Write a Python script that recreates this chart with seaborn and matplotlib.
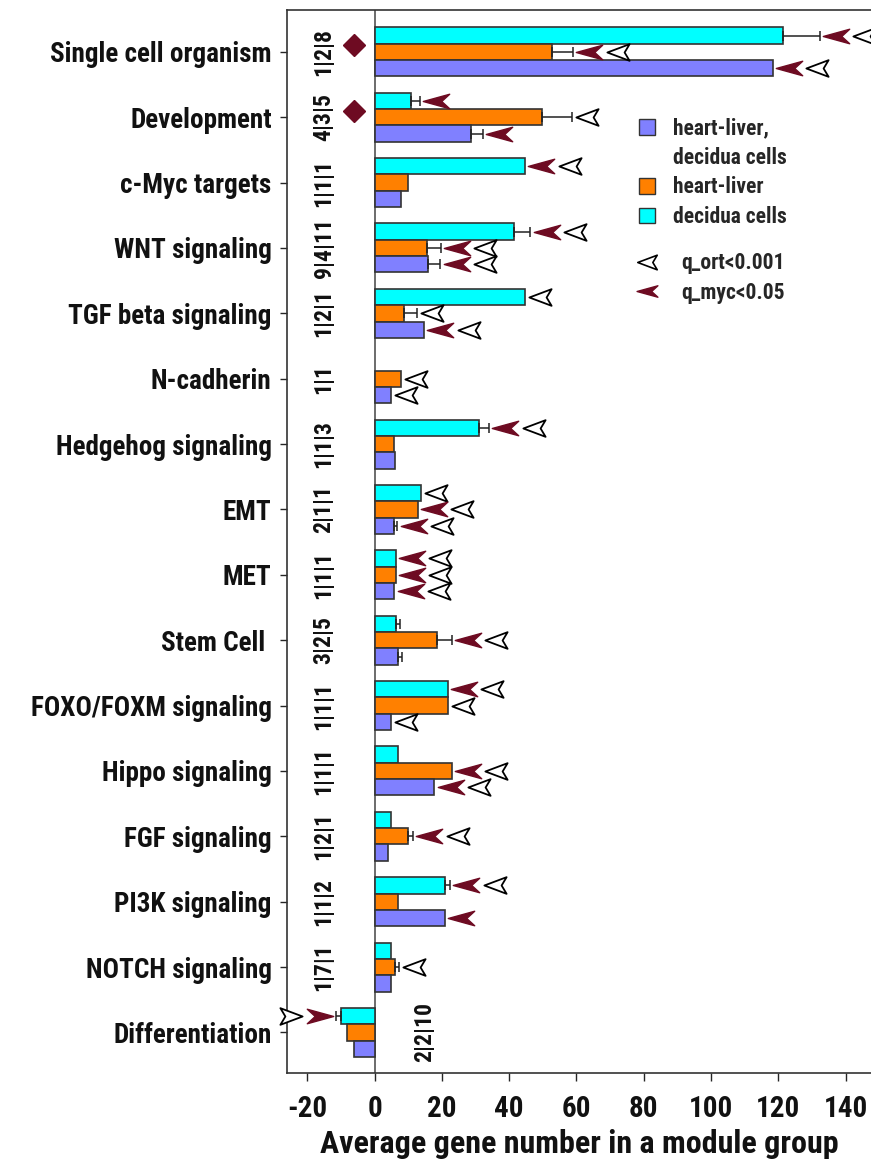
import matplotlib
matplotlib.use("Agg")
import matplotlib.pyplot as plt
import numpy as np
import pandas as pd
import seaborn as sb
from matplotlib.path import Path
from matplotlib.patches import Patch
from matplotlib.lines import Line2D
from matplotlib import font_manager

# categories top -> bottom
categories = ["Single cell organism", "Development", "c-Myc targets", "WNT signaling",
              "TGF beta signaling", "N-cadherin", "Hedgehog signaling", "EMT", "MET",
              "Stem Cell ", "FOXO/FOXM signaling", "Hippo signaling", "FGF signaling",
              "PI3K signaling", "NOTCH signaling", "Differentiation"]
counts = ["1|2|8", "4|3|5", "1|1|1", "9|4|11", "1|2|1", "1|1", "1|1|3", "2|1|1", "1|1|1",
          "3|2|5", "1|1|1", "1|1|1", "1|2|1", "1|1|2", "1|7|1", "2|2|10"]
groups = ["decidua cells", "heart-liver", "heart-liver, decidua cells"]

# bar values (nan = no bar)
decidua = [121.3, 10.7, 44.8, 41.3, 44.8, np.nan, 31.1, 13.8, 6.4, 6.4, 21.8, 6.9, 4.9, 20.8, 4.9, -10.1]
heart_liver = [52.8, 49.8, 9.9, 15.7, 8.9, 7.9, 5.8, 12.8, 6.4, 18.7, 21.8, 22.9, 9.9, 6.9, 6.0, -8.1]
both = [118.3, 28.8, 7.9, 16.0, 14.8, 4.9, 6.0, 5.9, 5.9, 6.9, 4.9, 17.8, 3.9, 20.8, 4.9, -6.1]

# one-sided error bars
decidua_err = [11.0, 2.7, 0, 5.0, 0, 0, 3.0, 0, 0, 1.1, 0, 0, 0, 1.7, 0, -1.4]
heart_liver_err = [6.2, 8.8, 0, 4.0, 3.7, 0, 0, 0, 0, 4.2, 0, 0, 1.6, 0, 1.2, 0]
both_err = [0, 3.5, 0, 3.6, 0, 0, 0, 0.9, 0, 1.4, 0, 0, 0, 0, 0, 0]

# significance marks: m = q_myc<0.05, o = q_ort<0.001
decidua_sig = ["mo", "m", "mo", "mo", "o", "", "mo", "o", "mo", "", "mo", "", "", "mo", "", "mo"]
heart_liver_sig = ["mo", "o", "", "mo", "o", "o", "", "mo", "mo", "mo", "o", "mo", "mo", "", "o", ""]
both_sig = ["mo", "m", "", "mo", "mo", "o", "", "mo", "mo", "", "o", "mo", "", "m", "", ""]

# categories flagged with a diamond
diamond_cats = ["Single cell organism", "Development"]

values = [decidua, heart_liver, both]
errors = [decidua_err, heart_liver_err, both_err]
sigs = [decidua_sig, heart_liver_sig, both_sig]

colors = ["#00FFFF", "#FF8000", "#8080FF"]
myc_color = "#6E0B22"

rows = []
for g, vals in zip(groups, values):
    for c, v in zip(categories, vals):
        if not np.isnan(v):
            rows.append({"category": c, "group": g, "value": v})
df = pd.DataFrame(rows)

# narrow bold font if one is around
installed = {f.name for f in font_manager.fontManager.ttflist}
wanted = ["Arial Narrow", "Liberation Sans Narrow", "Roboto Condensed", "Archivo Narrow",
          "PT Sans Narrow", "Open Sans Condensed", "Liberation Sans", "DejaVu Sans"]
families = [f for f in wanted if f in installed] or ["DejaVu Sans"]

sb.set_style("white")
plt.rcParams["font.family"] = families[:1] + ["DejaVu Sans"]
plt.rcParams["font.weight"] = "bold"
plt.rcParams["axes.unicode_minus"] = False

fig = plt.figure(figsize=(8.71, 11.65), dpi=100)
ax = fig.add_axes([0.3295, 0.079, 0.6705, 0.9124])

sb.barplot(data=df, x="value", y="category", hue="group", order=categories,
           hue_order=groups, palette=colors, saturation=1, width=0.75,
           edgecolor="#333333", linewidth=1.2, orient="h", legend=False, ax=ax)

# marker shapes (arrowheads pointing left)
myc_left = Path([(-1, 0), (1, 0.55), (0.4, 0), (1, -0.55), (-1, 0)],
                [Path.MOVETO, Path.LINETO, Path.LINETO, Path.LINETO, Path.CLOSEPOLY])
ort_left = Path([(-1, 0), (1, 0.75), (0.55, 0), (1, -0.75), (-1, 0)],
                [Path.MOVETO, Path.LINETO, Path.LINETO, Path.LINETO, Path.CLOSEPOLY])
myc_right = Path(myc_left.vertices * [-1, 1], myc_left.codes)
ort_right = Path(ort_left.vertices * [-1, 1], ort_left.codes)

offsets = [-0.25, 0.0, 0.25]
for j in range(3):
    for i in range(len(categories)):
        v = values[j][i]
        if np.isnan(v):
            continue
        y = i + offsets[j]
        e = errors[j][i]
        if e != 0:
            xerr = [[0], [e]] if e > 0 else [[-e], [0]]
            ax.errorbar(v, y, xerr=xerr, fmt="none", ecolor="#222222",
                        elinewidth=1.1, capsize=3.8, capthick=1.1, zorder=1)
        end = v + e
        sgn = 1 if v >= 0 else -1
        s = sigs[j][i]
        if "m" in s:
            ax.plot(end + 4.8 * sgn, y, marker=myc_left if sgn > 0 else myc_right,
                    ms=19, color=myc_color, mec=myc_color, ls="", clip_on=False, zorder=4)
            ort_x = end + 13.2 * sgn
        else:
            ort_x = end + 4.5 * sgn
        if "o" in s:
            ax.plot(ort_x, y, marker=ort_left if sgn > 0 else ort_right,
                    ms=16, mfc="white", mec="black", mew=1.3, ls="", clip_on=False, zorder=4)

# module counts, rotated
for i, (c, lab) in enumerate(zip(categories, counts)):
    neg = min(v[i] for v in values if not np.isnan(v[i])) < 0
    ax.text(15 if neg else -15, i, lab, rotation=90, ha="center", va="center",
            fontsize=17, fontweight="bold", color="#111111")

for c in diamond_cats:
    ax.plot(-6.2, categories.index(c) - 0.1, marker="D", ms=11.5,
            color=myc_color, ls="")

ax.axvline(0, color="#444444", lw=1.1, zorder=0)

ax.set_xlim(-26, 147.5)
ax.set_ylim(15.62, -0.64)
ax.set_xticks(np.arange(-20, 141, 20))
ax.set_xlabel("Average gene number in a module group", fontsize=23,
              fontweight="bold", labelpad=4, color="#111111")
ax.set_ylabel("")
ax.tick_params(axis="x", direction="out", length=6, width=1, labelsize=21, pad=10,
               bottom=True, labelcolor="#111111")
ax.tick_params(axis="y", direction="out", length=5, width=1, labelsize=19.5, pad=6,
               left=True, labelcolor="#111111")
for t in ax.get_xticklabels() + ax.get_yticklabels():
    t.set_fontweight("bold")
for side in ["left", "top", "bottom"]:
    ax.spines[side].set_color("#333333")
    ax.spines[side].set_linewidth(1.2)
ax.spines["right"].set_visible(False)

# legend: group colours (first label wraps, square sits on its first line),
# then the significance marks a bit lower
group_handles = [
    Patch(facecolor=colors[2], edgecolor="#333333", label="heart-liver,"),
    Patch(facecolor="none", edgecolor="none", label="decidua cells"),
    Patch(facecolor=colors[1], edgecolor="#333333", label="heart-liver"),
    Patch(facecolor=colors[0], edgecolor="#333333", label="decidua cells"),
]
mark_handles = [
    Line2D([], [], marker=ort_left, ls="", ms=14, mfc="white", mec="black", mew=1.2,
           label="q_ort<0.001"),
    Line2D([], [], marker=myc_left, ls="", ms=15, color=myc_color, label="q_myc<0.05"),
]
leg1 = ax.legend(handles=group_handles, loc="upper left", bbox_to_anchor=(0.603, 0.899),
                 frameon=False, handlelength=0.75, handleheight=0.75, handletextpad=0.8,
                 labelspacing=0.35, borderpad=0, borderaxespad=0,
                 prop={"weight": "bold", "size": 15.5})
ax.add_artist(leg1)
ax.legend(handles=mark_handles, loc="upper left", bbox_to_anchor=(0.603, 0.772),
          frameon=False, handlelength=0.75, handletextpad=1.2,
          labelspacing=0.35, borderpad=0, borderaxespad=0,
          prop={"weight": "bold", "size": 15.5})

fig.savefig("out.png", dpi=100)
